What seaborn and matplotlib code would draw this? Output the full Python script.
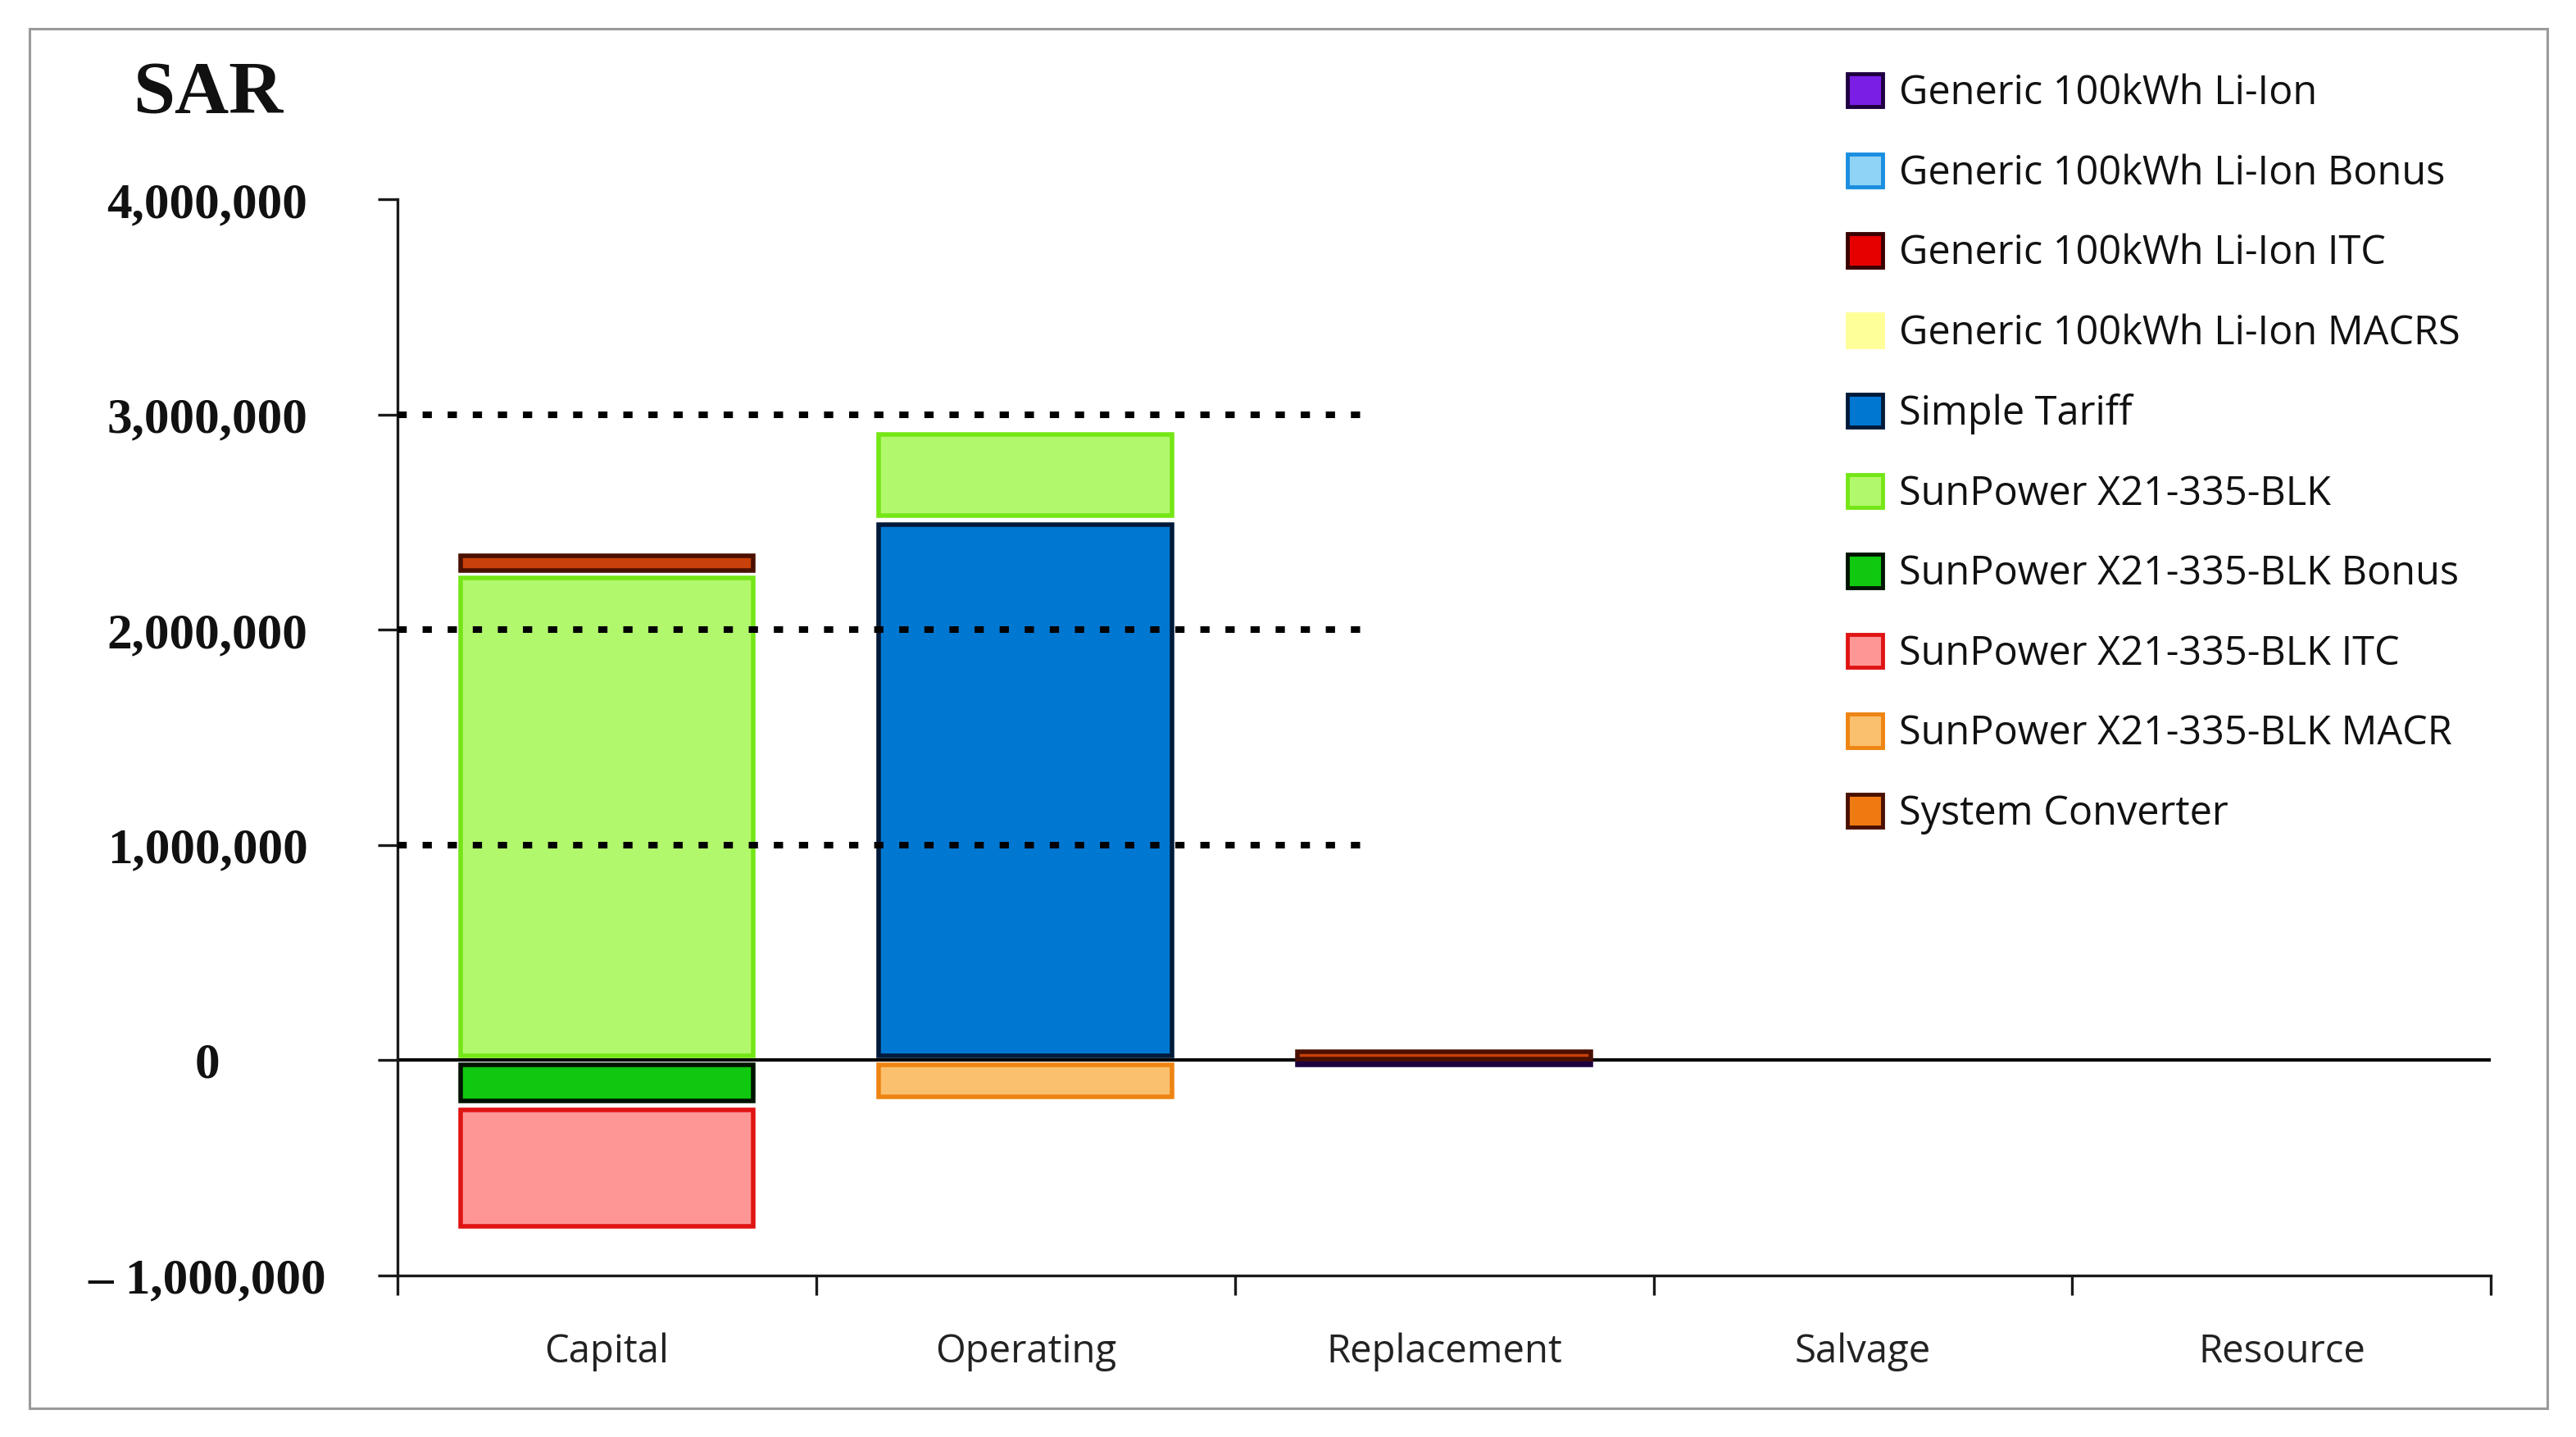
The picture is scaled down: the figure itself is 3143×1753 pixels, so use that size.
import numpy as np
import pandas as pd
import seaborn as sns
import matplotlib.pyplot as plt
from matplotlib.patches import Patch, Rectangle

categories = ["Capital", "Operating", "Replacement", "Salvage", "Resource"]

series_names = [
    "Generic 100kWh Li-Ion",
    "Generic 100kWh Li-Ion Bonus",
    "Generic 100kWh Li-Ion ITC",
    "Generic 100kWh Li-Ion MACRS",
    "Simple Tariff",
    "SunPower X21-335-BLK",
    "SunPower X21-335-BLK Bonus",
    "SunPower X21-335-BLK ITC",
    "SunPower X21-335-BLK MACR",
    "System Converter",
]

# SAR per cost category
li_ion = [0, 0, -25000, 0, 0]
li_ion_bonus = [0, 0, 0, 0, 0]
li_ion_itc = [0, 0, 0, 0, 0]
li_ion_macrs = [0, 0, 0, 0, 0]
simple_tariff = [0, 2510000, 0, 0, 0]
sunpower = [2260000, 420000, 0, 0, 0]
sunpower_bonus = [-210000, 0, 0, 0, 0]
sunpower_itc = [-580000, 0, 0, 0, 0]
sunpower_macr = [0, -190000, 0, 0, 0]
converter = [100000, 0, 45000, 0, 0]

series_values = [li_ion, li_ion_bonus, li_ion_itc, li_ion_macrs, simple_tariff,
                 sunpower, sunpower_bonus, sunpower_itc, sunpower_macr, converter]

face_colors = ["#7a1ee6", "#8fd3f7", "#e60000", "#ffff99", "#0078d2",
               "#b2f86c", "#0fc80f", "#ff9696", "#fbc06e", "#c8400a"]
edge_colors = ["#1e0040", "#1a8ee0", "#3a0000", "#ffff99", "#001a3a",
               "#74e616", "#001400", "#e01414", "#ee8412", "#4a1000"]
legend_faces = face_colors[:9] + ["#f07a12"]

y_ticks = [-1000000, 0, 1000000, 2000000, 3000000, 4000000]
y_labels = ["\u2013 1,000,000", "0", "1,000,000", "2,000,000", "3,000,000", "4,000,000"]

sns.set_style("white")
plt.rcParams["font.family"] = ["Open Sans", "DejaVu Sans"]

fig = plt.figure(figsize=(31.43, 17.53), dpi=100)
ax = fig.add_axes([0.1543, 0.1124, 0.8127, 0.7487])

# small pale separation between stacked pieces, as in the source chart
gap = 40000
pos_base = np.zeros(len(categories))
neg_base = np.zeros(len(categories))
for name, vals, fc, ec in zip(series_names, series_values, face_colors, edge_colors):
    vals = np.array(vals, dtype=float)
    cats, bottoms, heights = [], [], []
    for i, v in enumerate(vals):
        if v == 0:
            continue
        base = pos_base[i] if v > 0 else neg_base[i]
        s = np.sign(v)
        g = min(gap, 0.3 * abs(v))
        cats.append(categories[i])
        bottoms.append(base + s * g / 2)
        heights.append(v - s * g)
        if v > 0:
            pos_base[i] += v
        else:
            neg_base[i] += v
    if not cats:
        continue
    df = pd.DataFrame({"category": cats, "value": heights})
    sns.barplot(data=df, x="category", y="value", order=categories,
                bottom=np.array(bottoms), width=0.7, color=fc, saturation=1,
                edgecolor=ec, linewidth=4, errorbar=None, ax=ax, zorder=3)

ax.set_xlim(-0.5, 4.5)
ax.set_ylim(-1000000, 4000000)

# zero line and dotted guides
ax.axhline(0, color="black", lw=3, zorder=2)
for yv in [1000000, 2000000, 3000000]:
    ax.hlines(yv, -0.5, 1.80, colors="black", lw=5.8,
              linestyles=(0, (1.4, 2.4)), zorder=4)

sns.despine(ax=ax)
for side in ["left", "bottom"]:
    ax.spines[side].set_color("#1a1a1a")
    ax.spines[side].set_linewidth(2.4)

ax.set_yticks(y_ticks)
ax.set_yticklabels(y_labels, fontfamily="Liberation Serif", fontweight="bold",
                   fontsize=44, color="#111111")
for lab in ax.get_yticklabels():
    lab.set_horizontalalignment("center")
ax.tick_params(axis="y", direction="out", length=17, width=2.4, color="#1a1a1a", pad=150, left=True)

ax.set_xticks(range(len(categories)))
ax.set_xticklabels(categories, fontsize=34, color="#222222")
ax.set_xticks(np.arange(-0.5, 5, 1), minor=True)
ax.tick_params(axis="x", which="major", length=0, pad=50)
ax.tick_params(axis="x", which="minor", direction="out", length=17, width=2.4,
               color="#1a1a1a", bottom=True)
ax.set_xlabel("")
ax.set_ylabel("")

fig.text(0.0808, 0.934, "SAR", fontfamily="Liberation Serif", fontweight="bold",
         fontsize=66, ha="center", va="center", color="#111111")

handles = [Patch(facecolor=fc, edgecolor=ec, linewidth=3.5)
           for fc, ec in zip(legend_faces, edge_colors)]
leg = fig.legend(handles, series_names, loc="upper left", bbox_to_anchor=(0.717, 0.949),
                 frameon=False, fontsize=35, handlelength=0.9, handleheight=0.9,
                 handletextpad=0.4, labelspacing=0.99, borderpad=0, borderaxespad=0)
for t in leg.get_texts():
    t.set_color("#111111")

fig.patches.append(Rectangle((36 / 3143, 35 / 1753), 3072 / 3143, 1683 / 1753,
                             transform=fig.transFigure, fill=False,
                             edgecolor="#9a9a9a", linewidth=2.2))

fig.savefig("out.png", dpi=100)
